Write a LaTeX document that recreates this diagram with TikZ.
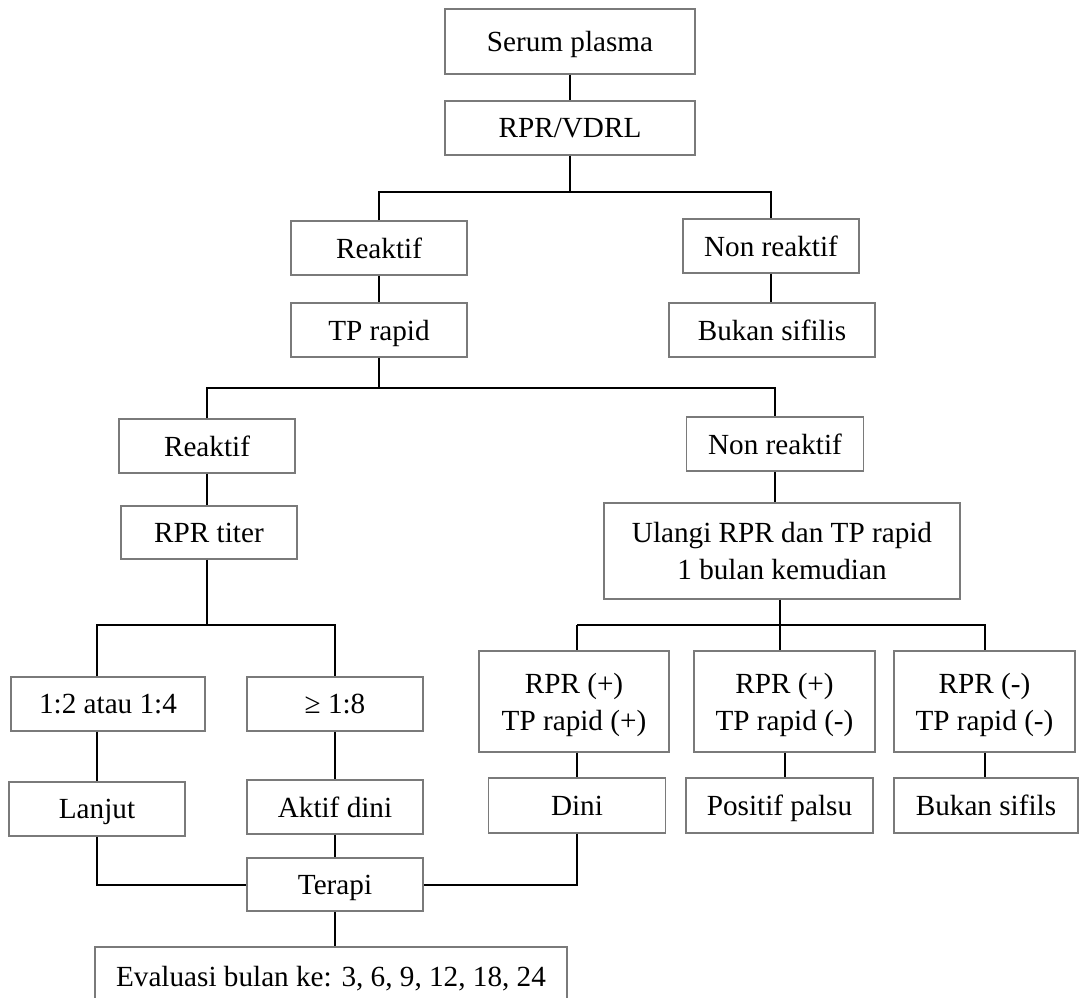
\documentclass[tikz,border=0pt]{standalone}
\usepackage{fontspec}
\setmainfont{Liberation Serif}
\begin{document}
\begin{tikzpicture}[x=1pt,y=-1pt,
  box/.style={draw=boxgray, line width=1.4pt, inner sep=0pt, align=center,
    text depth=0pt, font=\fontsize{29.2}{37}\selectfont},
  conn/.style={draw=black, line width=2pt}]
\definecolor{boxgray}{HTML}{7A7A7A}
\useasboundingbox (0,0) rectangle (1080,998);
\clip (0,0) rectangle (1080,998);
% level 1
\node[box, minimum width=250pt, minimum height=65pt] (serum) at (570,41.5) {Serum plasma};
\node[box, minimum width=250pt, minimum height=54pt] (rpr) at (570,128) {RPR/VDRL};
\node[box, minimum width=176pt, minimum height=54pt] (reak1) at (379,248) {Reaktif};
\node[box, minimum width=176pt, minimum height=54pt] (nonreak1) at (771,246) {Non reaktif};
\node[box, minimum width=176pt, minimum height=54pt] (tprapid) at (379,330) {TP rapid};
\node[box, minimum width=206pt, minimum height=54pt] (bukan1) at (772,330) {Bukan sifilis};
% level 2
\node[box, minimum width=176pt, minimum height=54pt] (reak2) at (207,446) {Reaktif};
\node[box, minimum width=177pt, minimum height=54pt] (nonreak2) at (775,444) {Non reaktif};
\node[box, minimum width=176pt, minimum height=53pt] (rprtiter) at (209,532.5) {RPR titer};
\node[box, minimum width=356pt, minimum height=96pt] (ulangi) at (782,551) {Ulangi RPR dan TP rapid\\1 bulan kemudian};
% level 3 left
\node[box, minimum width=194pt, minimum height=54pt] (r12) at (108,704) {1:2 atau 1:4};
\node[box, minimum width=176pt, minimum height=54pt] (ge18) at (335,704) {≥ 1:8};
\node[box, minimum width=176pt, minimum height=54pt] (lanjut) at (97,809) {Lanjut};
\node[box, minimum width=176pt, minimum height=54pt] (aktif) at (335,807) {Aktif dini};
\node[box, minimum width=176pt, minimum height=53pt] (terapi) at (335,884.5) {Terapi};
\node[box, minimum width=472pt, minimum height=58pt] (eval) at (331,976) {Evaluasi bulan ke: 3, 6, 9, 12, 18, 24};
% level 3 right
\node[box, minimum width=190pt, minimum height=101pt] (rpp) at (574,701.5) {RPR (+)\\TP rapid (+)};
\node[box, minimum width=181pt, minimum height=101pt] (rpm) at (784.5,701.5) {RPR (+)\\TP rapid (-)};
\node[box, minimum width=181pt, minimum height=101pt] (rmm) at (984.5,701.5) {RPR (-)\\TP rapid (-)};
\node[box, minimum width=177pt, minimum height=55pt] (dini) at (577,805.5) {Dini};
\node[box, minimum width=187pt, minimum height=55pt] (positif) at (779.5,805.5) {Positif palsu};
\node[box, minimum width=184pt, minimum height=55pt] (bukan2) at (986,805.5) {Bukan sifils};
% junctions
\coordinate (j1) at (570,192);
\coordinate (j2) at (377,388);
\coordinate (j3) at (207,625);
\coordinate (j4) at (780,625);
% connectors
\draw[conn] (serum) -- (rpr);
\draw[conn] (rpr.south) -- (j1);
\draw[conn] (reak1.north) -- (reak1.north |- j1) -- (nonreak1.north |- j1) -- (nonreak1.north);
\draw[conn] (reak1) -- (tprapid);
\draw[conn] (nonreak1.south) -- (nonreak1.south |- bukan1.north);
\draw[conn] (tprapid.south) -- (tprapid.south |- j2);
\draw[conn] (reak2.north) -- (reak2.north |- j2) -- (nonreak2.north |- j2) -- (nonreak2.north);
\draw[conn] (reak2) -- (rprtiter.north -| reak2);
\draw[conn] (nonreak2.south) -- (nonreak2.south |- ulangi.north);
\draw[conn] (rprtiter.south -| j3) -- (j3);
\draw[conn] (r12.north -| lanjut) -- (lanjut |- j3) -- (ge18.north |- j3) -- (ge18.north);
\draw[conn] (r12.south -| lanjut) -- (lanjut.north);
\draw[conn] (ge18) -- (aktif);
\draw[conn] (aktif) -- (terapi);
\draw[conn] (terapi.south) -- (terapi.south |- eval.north);
\draw[conn] (lanjut.south) |- (terapi.west);
\draw[conn] (dini.south) |- (terapi.east);
\draw[conn] (ulangi.south -| j4) -- (j4);
\draw[conn] (dini.north |- j4) -- (rmm.north |- j4) -- (rmm.north);
\draw[conn] (dini.north |- j4) -- (dini.north |- rpp.north);
\draw[conn] (j4) -- (j4 |- rpm.north);
\draw[conn] (rpp.south -| dini) -- (dini.north);
\draw[conn] (rpm.south) -- (rpm.south |- positif.north);
\draw[conn] (rmm.south) -- (rmm.south |- bukan2.north);
\end{tikzpicture}
\end{document}
